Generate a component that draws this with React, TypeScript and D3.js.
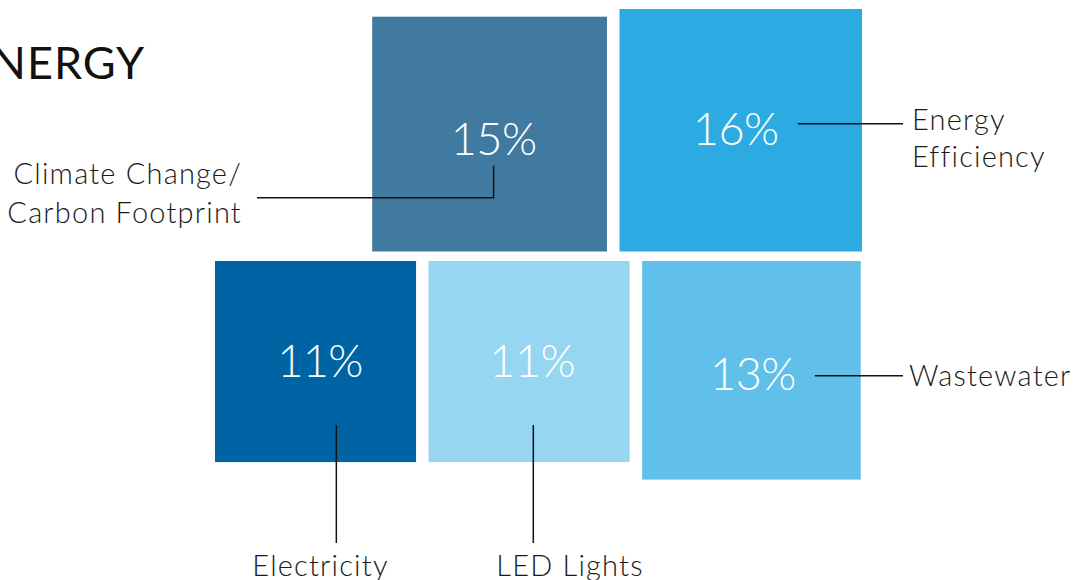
import React from "react";
import * as d3 from "d3";

const categories = ["Climate Change/\nCarbon Footprint", "Energy\nEfficiency", "Electricity", "LED Lights", "Wastewater"];
const values = [15, 16, 11, 11, 13];
const rows = [0, 0, 1, 1, 1];
const colors = ["#417aa0", "#2cabe3", "#0064a4", "#97d6f0", "#60c0ea"];
const title = "ENERGY";

const W = 1073;
const H = 580;
const GAP = 12.5;
const TOP_ROW_RIGHT = 862;
const TOP_ROW_BOTTOM = 251.5;
const BOTTOM_ROW_LEFT = 215;
const BOTTOM_ROW_TOP = 261;
const FONT = "Lato, 'Open Sans', sans-serif";

const side = d3.scaleSqrt().domain([0, 16]).range([0, 242.5]);

type Box = { i: number; x: number; y: number; s: number };

function layout(): Box[] {
  const boxes: Box[] = [];
  const top = values.map((v, i) => i).filter((i) => rows[i] === 0);
  let x = TOP_ROW_RIGHT;
  for (let k = top.length - 1; k >= 0; k--) {
    const i = top[k];
    const s = side(values[i]);
    x -= s;
    boxes[i] = { i, x, y: TOP_ROW_BOTTOM - s, s };
    x -= GAP;
  }
  const bot = values.map((v, i) => i).filter((i) => rows[i] === 1);
  x = BOTTOM_ROW_LEFT;
  for (const i of bot) {
    const s = side(values[i]);
    boxes[i] = { i, x, y: BOTTOM_ROW_TOP, s };
    x += s + GAP;
  }
  return boxes;
}

export default function App() {
  const boxes = layout();
  const c = (b: Box) => ({ cx: b.x + b.s / 2, cy: b.y + b.s / 2 });

  const [b0, b1, b2, b3, b4] = boxes;
  const pctDx = [4, -5, 4.5, 3, 1.5];
  const pctDy = [20.5, 14.5, 15.5, 15, 19.5];

  const lines: [number, number][][] = [
    [
      [257, b0.y + 181],
      [c(b0).cx + pctDx[0], b0.y + 181],
      [c(b0).cx + pctDx[0], c(b0).cy + pctDy[0] + 11],
    ],
    [
      [c(b1).cx + 57, c(b1).cy - 6.5],
      [903, c(b1).cy - 6.5],
    ],
    [
      [c(b2).cx + 20.8, c(b2).cy + 63.5],
      [c(b2).cx + 20.8, 543],
    ],
    [
      [c(b3).cx + 4.2, c(b3).cy + 63.5],
      [c(b3).cx + 4.2, 543],
    ],
    [
      [c(b4).cx + 63.5, c(b4).cy + 5.5],
      [903, c(b4).cy + 5.5],
    ],
  ];
  const line = d3.line();

  type Lab = { lines: string[]; x: number; y: number; anchor: string; lh: number };
  const labs: Lab[] = [
    { lines: categories[0].split("\n"), x: 242, y: 184, anchor: "end", lh: 39 },
    { lines: categories[1].split("\n"), x: 912, y: 129.5, anchor: "start", lh: 37.5 },
    { lines: categories[2].split("\n"), x: 320.5, y: 576, anchor: "middle", lh: 38 },
    { lines: categories[3].split("\n"), x: 570, y: 576, anchor: "middle", lh: 38 },
    { lines: categories[4].split("\n"), x: 909, y: 386, anchor: "start", lh: 38 },
  ];

  return (
    <div style={{ position: "fixed", left: 0, top: 0 }}>
      <svg width={W} height={H} style={{ display: "block", background: "#fff" }}>
        <text x={145} y={79} textAnchor="end" fontFamily={FONT} fontWeight={400} fontSize={45} fill="#111" letterSpacing={1}>
          {title}
        </text>
        {boxes.map((b) => (
          <rect key={b.i} x={b.x} y={b.y} width={b.s} height={b.s} fill={colors[b.i]} />
        ))}
        {boxes.map((b) => (
          <text
            key={"p" + b.i}
            x={c(b).cx + pctDx[b.i]}
            y={c(b).cy + pctDy[b.i]}
            textAnchor="middle"
            fontFamily={FONT}
            fontWeight={300}
            fontSize={45}
            fill="#fff"
            letterSpacing={-0.5}
          >
            {values[b.i]}%
          </text>
        ))}
        {lines.map((pts, i) => (
          <path key={"l" + i} d={line(pts) || ""} fill="none" stroke="#111" strokeWidth={1.5} />
        ))}
        {labs.map((l, i) => (
          <text
            key={"t" + i}
            textAnchor={l.anchor}
            fontFamily={FONT}
            fontWeight={300}
            fontSize={29}
            fill="#1a1a1a"
            letterSpacing={1.2}
          >
            {l.lines.map((s, k) => (
              <tspan key={k} x={l.x} y={l.y + k * l.lh}>
                {s}
              </tspan>
            ))}
          </text>
        ))}
      </svg>
    </div>
  );
}
